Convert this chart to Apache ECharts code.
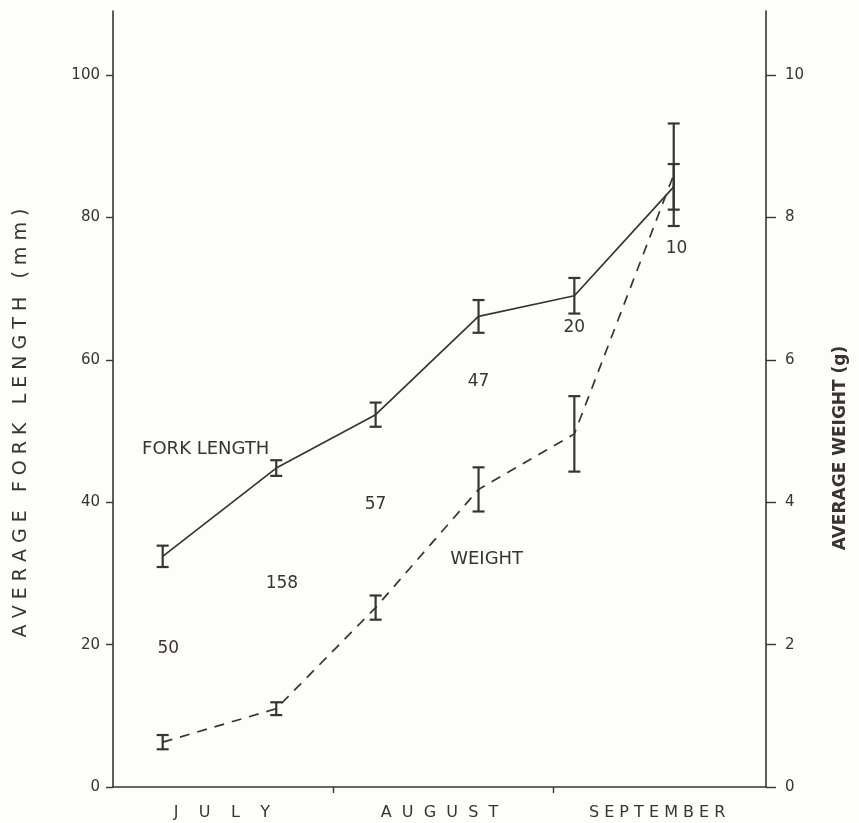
<!DOCTYPE html>
<html>
<head>
<meta charset="utf-8">
<script src="https://cdn.jsdelivr.net/npm/echarts@6/dist/echarts.min.js"></script>
<style>
html,body{margin:0;padding:0;background:#fdfdfa;}
#chart{width:859px;height:823px;}
</style>
</head>
<body>
<div id="chart"></div>
<script>
// ---- data ----
const months = ['J    U    L    Y', 'A  U  G  U  S  T', 'S E P T E M B E R'];
const monthBoundaryDays = [0, 31, 62, 92];
const sampleDays = [7, 23, 37, 51.5, 65, 79];
const forkLength = [32.4, 44.8, 52.3, 66.1, 69.0, 84.3];
const forkLengthErr = [1.5, 1.1, 1.7, 2.3, 2.5, 3.2];
const weight = [0.63, 1.10, 2.52, 4.18, 4.96, 8.6];
const weightErr = [0.10, 0.09, 0.17, 0.31, 0.53, 0.72];
const sampleSizes = ['50', '158', '57', '47', '20', '10'];
const sampleLabelDays = [7.8, 23.8, 37, 51.5, 65, 79.4];
const sampleLabelMm = [19.4, 28.6, 39.6, 56.9, 64.6, 75.6];
const seriesNames = ['FORK LENGTH', 'WEIGHT'];
const seriesLabelAt = [[4.1, 47.4], [47.5, 32.0]];
const lengthTicks = [0, 20, 40, 60, 80, 100];
const weightTicks = [0, 2, 4, 6, 8, 10];
const lengthAxisName = 'A V E R A G E   F O R K   L E N G T H   ( m m )';
const weightAxisName = 'AVERAGE WEIGHT (g)';

const ink = '#3a3431';
const font = 'DejaVu Sans';

function errBarItem(params, api) {
  const x = api.value(0), y = api.value(1), e = api.value(2);
  const top = api.coord([x, y + e]);
  const bot = api.coord([x, y - e]);
  const w = 6;
  const style = { stroke: ink, lineWidth: 2.2 };
  return {
    type: 'group',
    children: [
      { type: 'line', shape: { x1: top[0], y1: top[1], x2: bot[0], y2: bot[1] }, style },
      { type: 'line', shape: { x1: top[0] - w, y1: top[1], x2: top[0] + w, y2: top[1] }, style },
      { type: 'line', shape: { x1: bot[0] - w, y1: bot[1], x2: bot[0] + w, y2: bot[1] }, style }
    ]
  };
}

const chart = echarts.init(document.getElementById('chart'));
chart.setOption({
  backgroundColor: '#fdfdfa',
  animation: false,
  textStyle: { fontFamily: font, color: ink },
  grid: { left: 113, right: 93, top: 11, bottom: 36, containLabel: false },
  xAxis: [
    {
      type: 'value', min: monthBoundaryDays[0], max: monthBoundaryDays[3],
      axisLine: { show: true, lineStyle: { color: ink, width: 1.6 } },
      axisTick: { show: true, customValues: monthBoundaryDays.slice(1, 3), length: 6, lineStyle: { color: ink, width: 1.4 } },
      axisLabel: { show: false },
      splitLine: { show: false }
    },
    {
      type: 'category', data: months, position: 'bottom', boundaryGap: true,
      axisLine: { show: false }, axisTick: { show: false },
      axisLabel: { margin: 18, fontSize: 16, color: ink, fontFamily: font }
    }
  ],
  yAxis: [
    {
      type: 'value', min: 0, max: 109,
      axisLine: { show: true, lineStyle: { color: ink, width: 1.6 } },
      axisTick: { show: true, customValues: lengthTicks, length: 7, lineStyle: { color: ink, width: 1.4 } },
      axisLabel: { customValues: lengthTicks, margin: 13, fontSize: 15, color: ink, fontFamily: font },
      splitLine: { show: false }
    },
    {
      type: 'value', min: 0, max: 10.9, position: 'right',
      axisLine: { show: true, lineStyle: { color: ink, width: 1.6 } },
      axisTick: { show: true, customValues: weightTicks, length: 10, lineStyle: { color: ink, width: 1.4 } },
      axisLabel: { customValues: weightTicks, margin: 19, fontSize: 15, color: ink, fontFamily: font },
      splitLine: { show: false }
    }
  ],
  graphic: [
    { type: 'text', x: 21, y: 423, rotation: Math.PI / 2,
      style: { text: lengthAxisName, fill: ink, font: '19px "' + font + '"', align: 'center', verticalAlign: 'middle' } },
    { type: 'text', x: 841, y: 448, rotation: Math.PI / 2,
      style: { text: weightAxisName, fill: ink, font: 'bold 17px "' + font + '"', align: 'center', verticalAlign: 'middle' } }
  ],
  series: [
    {
      name: seriesNames[0], type: 'line', xAxisIndex: 0, yAxisIndex: 0,
      data: sampleDays.map((d, i) => [d, forkLength[i]]),
      showSymbol: false, symbol: 'none',
      lineStyle: { color: ink, width: 1.7 }
    },
    {
      name: seriesNames[1], type: 'line', xAxisIndex: 0, yAxisIndex: 1,
      data: sampleDays.map((d, i) => [d, weight[i]]),
      showSymbol: false, symbol: 'none',
      lineStyle: { color: ink, width: 1.7, type: [10, 8] }
    },
    {
      type: 'custom', xAxisIndex: 0, yAxisIndex: 0,
      data: sampleDays.map((d, i) => [d, forkLength[i], forkLengthErr[i]]),
      renderItem: errBarItem, z: 3
    },
    {
      type: 'custom', xAxisIndex: 0, yAxisIndex: 1,
      data: sampleDays.map((d, i) => [d, weight[i], weightErr[i]]),
      renderItem: errBarItem, z: 3
    },
    {
      type: 'scatter', xAxisIndex: 0, yAxisIndex: 0, symbolSize: 0, silent: true,
      itemStyle: { opacity: 1 },
      data: sampleLabelDays.map((d, i) => ({ value: [d, sampleLabelMm[i]], name: sampleSizes[i] })),
      label: { show: true, position: 'inside', formatter: p => p.name, fontSize: 17, color: ink, fontFamily: font }
    },
    {
      type: 'scatter', xAxisIndex: 0, yAxisIndex: 0, symbolSize: 0, silent: true,
      itemStyle: { opacity: 1 },
      data: seriesLabelAt.map((p, i) => ({ value: p, name: seriesNames[i] })),
      label: { show: true, position: 'right', distance: 0, formatter: p => p.name, fontSize: 18, color: ink, fontFamily: font }
    }
  ]
});
</script>
</body>
</html>
